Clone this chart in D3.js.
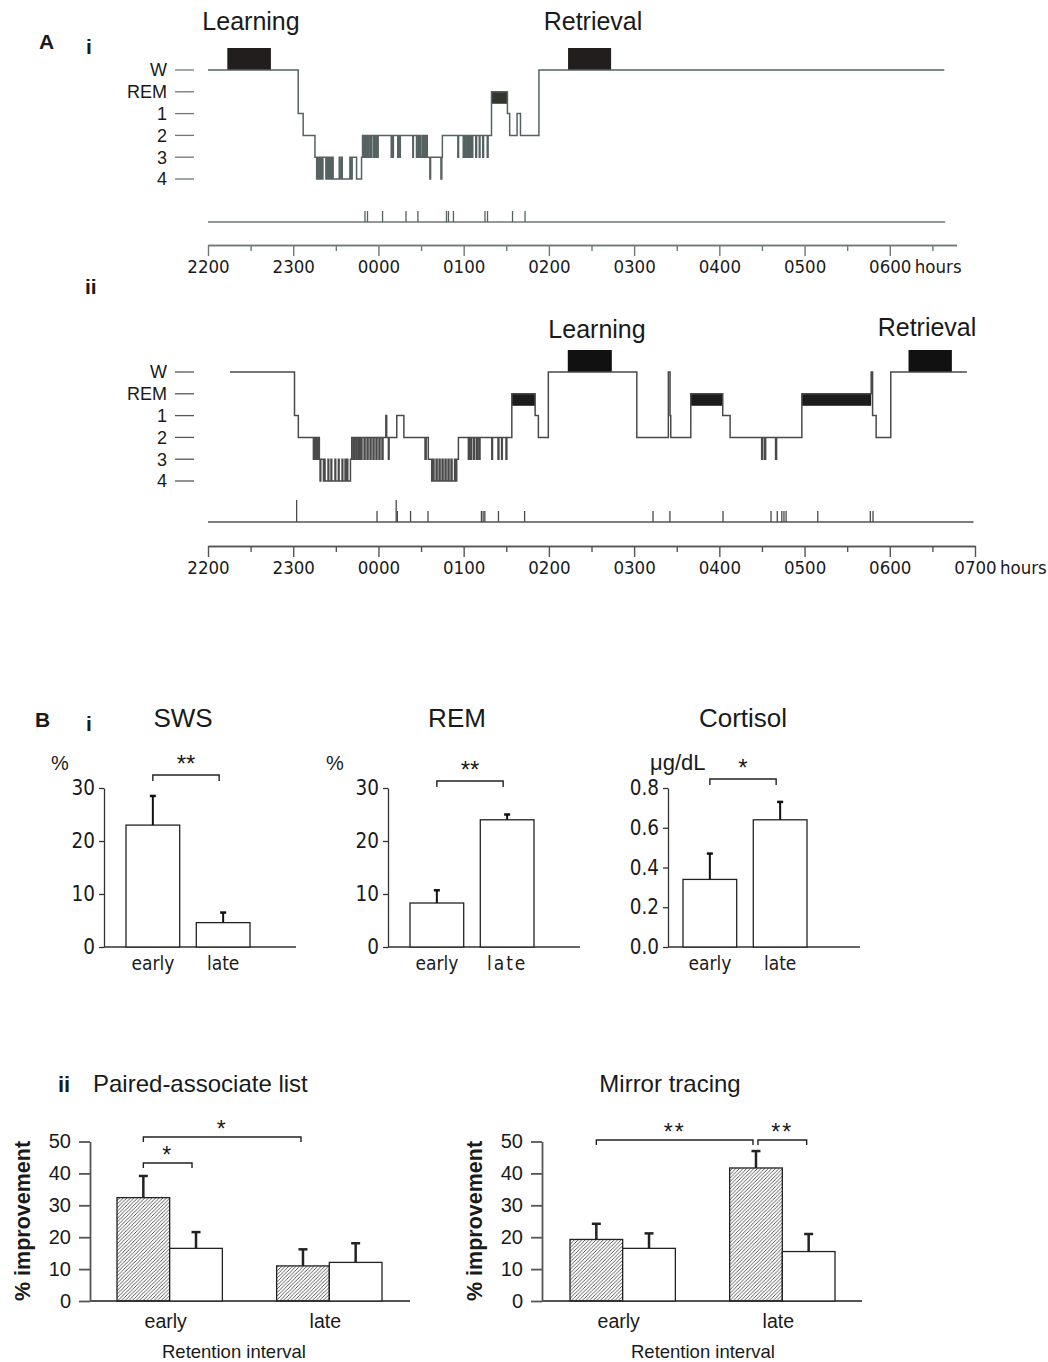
<!DOCTYPE html>
<html>
<head>
<meta charset="utf-8">
<script src="https://cdn.jsdelivr.net/npm/d3@7"></script>
<style>
  body { margin: 0; background: #fff; }
  text { font-family: "Liberation Sans", Arial, sans-serif; fill: #1a1a1a; }
  .narrow text, text.narrow { font-family: "Liberation Sans Narrow", "DejaVu Sans Condensed", sans-serif; }
</style>
</head>
<body>
<div id="chart"></div>
<script>
// ---------- data ----------
var stages = ["W", "REM", "1", "2", "3", "4"];
var hourLabelsI = ["2200", "2300", "0000", "0100", "0200", "0300", "0400", "0500", "0600"];
var hourLabelsII = ["2200", "2300", "0000", "0100", "0200", "0300", "0400", "0500", "0600", "0700"];

// hypnograms: [minutes after 22:00, stage from that minute on]
var hypnoI = [
  [0, "W"], [63.5, "1"], [67.0, "2"], [75.3, "3"],
  [76.5, "4"], [77.4, "3"], [78.3, "4"], [79.1, "3"], [80.0, "4"], [80.9, "3"],
  [83.0, "4"], [83.8, "3"], [84.7, "4"], [85.5, "3"], [86.4, "4"], [87.2, "3"], [88.1, "4"],
  [92.4, "3"], [92.9, "4"], [94.0, "3"], [94.5, "4"],
  [99.9, "3"], [100.6, "4"], [101.5, "3"], [104.6, "4"], [108.1, "3"], [108.8, "2"],
  [109.4, "3"], [110.1, "2"], [110.6, "3"], [111.5, "2"], [112.0, "3"], [112.7, "2"], [113.2, "3"], [114.3, "2"], [114.6, "3"], [115.1, "2"],
  [116.4, "3"], [117.1, "2"], [117.8, "3"], [118.5, "2"], [119.2, "3"], [119.8, "2"],
  [129.0, "3"], [129.4, "2"], [130.1, "3"], [130.5, "2"],
  [133.6, "3"], [134.0, "2"], [135.0, "3"], [135.4, "2"],
  [144.2, "3"], [144.6, "2"],
  [146.8, "3"], [147.4, "2"], [148.1, "3"], [149.1, "2"], [149.7, "3"], [150.9, "2"], [151.6, "3"], [152.3, "2"], [153.0, "3"], [153.4, "2"],
  [154.4, "3"], [156.2, "4"], [156.7, "3"], [164.0, "4"], [164.6, "3"], [165.0, "2"],
  [175.9, "3"], [176.4, "2"],
  [179.7, "3"], [180.4, "2"], [181.1, "3"], [182.2, "2"], [182.9, "3"], [183.6, "2"], [184.3, "3"], [185.0, "2"], [185.7, "3"], [186.4, "2"],
  [188.5, "3"], [189.1, "2"], [191.0, "3"], [191.5, "2"], [193.4, "3"], [194.0, "2"], [196.6, "3"], [197.2, "2"],
  [199.6, "REM"], [210.8, "1"], [212.4, "2"], [217.6, "1"], [220.0, "2"], [233.0, "W"], [518.4, "W"]
];
var learnI = [13.6, 44.3], retrieveI = [253.5, 283.8];
var eventsI = [110.5, 112.3, 122.9, 139.4, 147.8, 167.9, 169.3, 172.8, 195.0, 196.8, 214.4, 223.2];

var hypnoII = [
  [15.5, "W"], [60.9, "1"], [63.6, "2"],
  [74.2, "3"], [75.0, "2"], [75.7, "3"], [76.4, "2"], [77.1, "3"], [77.7, "2"], [78.4, "3"],
  [78.9, "4"], [79.4, "3"], [81.3, "4"], [81.9, "3"], [82.4, "4"], [84.5, "3"], [85.0, "4"], [86.6, "3"], [87.1, "4"], [89.4, "3"], [89.9, "4"],
  [91.8, "3"], [92.3, "4"], [94.4, "3"], [94.9, "4"], [96.5, "3"], [97.0, "4"], [97.9, "3"], [98.4, "4"], [100.3, "3"], [101.2, "2"],
  [102.3, "3"], [103.1, "2"], [104.2, "3"], [104.9, "2"], [106.0, "3"], [106.7, "2"], [107.7, "3"], [108.4, "2"], [109.9, "3"], [110.6, "2"],
  [112.0, "3"], [112.7, "2"], [114.1, "3"], [114.8, "2"], [116.2, "3"], [116.9, "2"], [118.3, "3"], [119.0, "2"], [120.4, "3"], [121.1, "2"],
  [122.5, "3"], [123.2, "2"], [125.2, "1"], [125.8, "2"], [127.0, "3"], [127.5, "2"],
  [132.9, "1"], [137.9, "2"],
  [152.8, "3"], [153.6, "2"], [155.1, "3"],
  [157.5, "4"], [158.4, "3"], [159.1, "4"], [160.6, "3"], [161.3, "4"], [162.7, "3"], [163.4, "4"], [164.8, "3"], [165.5, "4"], [166.9, "3"],
  [167.6, "4"], [169.0, "3"], [169.7, "4"], [171.1, "3"], [171.8, "4"], [173.6, "3"], [174.1, "4"], [175.1, "3"], [176.3, "2"],
  [183.3, "3"], [184.0, "2"], [184.8, "3"], [185.5, "2"], [186.9, "3"], [187.6, "2"], [189.0, "3"], [189.7, "2"], [190.8, "3"], [191.5, "2"],
  [199.8, "3"], [200.3, "2"], [204.2, "3"], [204.8, "2"], [206.7, "3"], [207.2, "2"], [209.8, "3"], [210.4, "2"],
  [213.9, "REM"], [230.3, "1"], [232.6, "2"], [239.6, "W"],
  [301.9, "2"], [324.1, "W"], [325.3, "1"], [325.8, "2"],
  [339.9, "REM"], [362.4, "1"], [367.6, "2"],
  [389.8, "3"], [390.5, "2"], [391.9, "3"], [392.6, "2"], [399.6, "3"], [400.3, "2"],
  [418.1, "REM"], [466.9, "W"], [467.9, "1"], [470.4, "2"], [480.7, "W"], [534.3, "W"]
];
var learnII = [253.3, 284.3], retrieveII = [493.2, 523.7];
var eventsII = [119.0, 133.3, 142.6, 154.9, 192.5, 193.7, 194.9, 204.5, 222.9, 313.3, 325.2, 362.6,
                396.4, 400.8, 404.0, 405.5, 407.0, 429.3, 466.3, 468.2];
var eventsIITall = [62.4, 132.5];

// B i: early vs late retention intervals
var conds = ["early", "late"];
var swsMean = [23, 4.6], swsSem = [5.5, 1.9];
var remMean = [8.3, 24], remSem = [2.4, 1.0];
var cortMean = [0.34, 0.64], cortSem = [0.13, 0.09];

// B ii: sleep (hatched) vs wake (open)
var groups = ["sleep", "wake"];
var pairedSleep = [32.4, 11.0], pairedSleepSem = [6.8, 5.2];
var pairedWake = [16.5, 12.1], pairedWakeSem = [5.1, 6.0];
var mirrorSleep = [19.3, 41.7], mirrorSleepSem = [4.9, 5.3];
var mirrorWake = [16.5, 15.5], mirrorWakeSem = [4.7, 5.5];

// ---------- svg ----------
var svg = d3.select("#chart").append("svg")
    .attr("width", 1048)
    .attr("height", 1362);

var defs = svg.append("defs");
defs.append("pattern")
    .attr("id", "hatch")
    .attr("patternUnits", "userSpaceOnUse")
    .attr("width", 3.6).attr("height", 3.6)
  .append("path")
    .attr("d", "M-0.9,0.9 l1.8,-1.8 M0,3.6 l3.6,-3.6 M2.7,4.5 l1.8,-1.8")
    .attr("stroke", "#333")
    .attr("stroke-width", 0.8);

function label(txt, x, y, size, bold, cls) {
  return svg.append("text")
      .attr("x", x).attr("y", y)
      .attr("font-size", size)
      .attr("font-weight", bold ? "bold" : null)
      .attr("class", cls || null)
      .text(txt);
}

// ---------- A: hypnograms ----------
var x = d3.scaleLinear().domain([0, 540]).range([208, 975]);

function drawHypno(cfg) {
  var y = d3.scalePoint().domain(stages).range(cfg.stageRange);
  var g = svg.append("g");

  stages.forEach(function(s) {
    g.append("text")
        .attr("x", 167).attr("y", y(s)).attr("dy", "0.36em")
        .attr("text-anchor", "end")
        .attr("font-size", 18)
        .text(s);
    g.append("line")
        .attr("x1", 175).attr("x2", 194)
        .attr("y1", y(s)).attr("y2", y(s))
        .attr("stroke", cfg.axisColor).attr("stroke-width", 1.3);
  });

  // learning / retrieval sessions
  [[cfg.learn, "Learning", cfg.titleX[0], cfg.titleY[0]],
   [cfg.retrieve, "Retrieval", cfg.titleX[1], cfg.titleY[1]]].forEach(function(b) {
    g.append("rect")
        .attr("x", x(b[0][0])).attr("width", x(b[0][1]) - x(b[0][0]))
        .attr("y", y("W") - 22).attr("height", 22)
        .attr("fill", cfg.boxColor);
    g.append("text")
        .attr("x", b[2]).attr("y", b[3])
        .attr("text-anchor", "middle")
        .attr("font-size", 25)
        .text(b[1]);
  });

  // REM periods drawn as thick bars
  var remH = (y("1") - y("REM")) * 0.55;
  cfg.hypno.forEach(function(d, i) {
    if (d[1] === "REM" && i < cfg.hypno.length - 1) {
      g.append("rect")
          .attr("x", x(d[0])).attr("width", x(cfg.hypno[i + 1][0]) - x(d[0]))
          .attr("y", y("REM")).attr("height", remH)
          .attr("fill", cfg.remColor);
    }
  });

  var line = d3.line()
      .curve(d3.curveStepAfter)
      .x(function(d) { return x(d[0]); })
      .y(function(d) { return y(d[1]); });

  g.append("path")
      .datum(cfg.hypno)
      .attr("d", line)
      .attr("fill", "none")
      .attr("stroke", cfg.lineColor)
      .attr("stroke-width", 1.5);

  // event markers
  g.append("line")
      .attr("x1", x(0)).attr("x2", x(cfg.eventEnd))
      .attr("y1", cfg.eventsY).attr("y2", cfg.eventsY)
      .attr("stroke", cfg.axisColor).attr("stroke-width", 1.4);
  g.selectAll(".ev").data(cfg.events).enter().append("line")
      .attr("x1", d => x(d)).attr("x2", d => x(d))
      .attr("y1", cfg.eventsY).attr("y2", cfg.eventsY - 11)
      .attr("stroke", cfg.lineColor).attr("stroke-width", 1.3);
  g.selectAll(".evt").data(cfg.tall).enter().append("line")
      .attr("x1", d => x(d)).attr("x2", d => x(d))
      .attr("y1", cfg.eventsY).attr("y2", cfg.eventsY - 22)
      .attr("stroke", cfg.lineColor).attr("stroke-width", 1.3);

  // time axis
  var xa = x.copy().domain([0, cfg.axisEnd]).range([x(0), x(cfg.axisEnd)]);
  var hours = cfg.hourLabels.map(function(h, i) { return i * 60; });
  var halves = hours.map(function(h) { return h + 30; }).filter(function(h) { return h < cfg.axisEnd; });

  var ax = g.append("g")
      .attr("class", "narrow")
      .attr("transform", "translate(0," + cfg.axisY + ")")
      .call(d3.axisBottom(xa).tickValues(hours).tickSize(11).tickSizeOuter(0).tickPadding(4)
            .tickFormat(function(d, i) { return cfg.hourLabels[i]; }));
  ax.append("g")
      .call(d3.axisBottom(xa).tickValues(halves).tickSize(6).tickSizeOuter(0).tickFormat(""));
  ax.selectAll("path, line").attr("stroke", cfg.axisColor).attr("stroke-width", 1.4);
  ax.selectAll("text").attr("font-size", 18.5).attr("fill", "#1a1a1a");

  g.append("text")
      .attr("class", "narrow")
      .attr("x", x(hours[hours.length - 1]) + 25)
      .attr("y", cfg.axisY + 28)
      .attr("font-size", 18.5)
      .text("hours");
}

label("A", 39, 49, 21, true);
label("i", 86, 54, 21, true);
label("ii", 85, 294, 21, true);

drawHypno({
  hypno: hypnoI, learn: learnI, retrieve: retrieveI,
  events: eventsI, tall: [], eventEnd: 519, axisEnd: 527,
  hourLabels: hourLabelsI,
  stageRange: [70, 179], eventsY: 222, axisY: 245,
  titleX: [251, 593], titleY: [30, 30],
  lineColor: "#566262", axisColor: "#6f7777", boxColor: "#221e1e", remColor: "#33352d"
});

drawHypno({
  hypno: hypnoII, learn: learnII, retrieve: retrieveII,
  events: eventsII, tall: eventsIITall, eventEnd: 539, axisEnd: 540,
  hourLabels: hourLabelsII,
  stageRange: [372, 481], eventsY: 522, axisY: 546,
  titleX: [597, 927], titleY: [338, 336],
  lineColor: "#4a4a4a", axisColor: "#555", boxColor: "#111", remColor: "#1c1c1c"
});

// ---------- B i: sleep stages and cortisol ----------
label("B", 35, 727, 21, true);
label("i", 86, 731, 21, true);

function drawSimpleBars(cfg) {
  var y = d3.scaleLinear().domain([0, cfg.max]).range([947, 788]);
  var xb = d3.scaleBand().domain(conds).range(cfg.bars).paddingInner(0.236);
  var g = svg.append("g");

  var yAx = g.append("g")
      .attr("class", "narrow")
      .attr("transform", "translate(" + cfg.x0 + ",0)")
      .call(d3.axisLeft(y).tickValues(cfg.ticks).tickSize(5).tickSizeOuter(0).tickPadding(4).tickFormat(cfg.fmt));
  yAx.selectAll("path, line").attr("stroke", "#333").attr("stroke-width", 1.3);
  yAx.selectAll("text").attr("font-size", 20.5).attr("fill", "#1a1a1a");

  g.append("line")
      .attr("x1", cfg.x0).attr("x2", cfg.x0 + 192)
      .attr("y1", y(0)).attr("y2", y(0))
      .attr("stroke", "#333").attr("stroke-width", 1.3);

  var d = conds.map(function(c, i) { return {c: c, m: cfg.mean[i], s: cfg.sem[i]}; });

  g.selectAll(".bar").data(d).enter().append("rect")
      .attr("x", v => xb(v.c)).attr("width", xb.bandwidth())
      .attr("y", v => y(v.m)).attr("height", v => y(0) - y(v.m))
      .attr("fill", "#fff").attr("stroke", "#222").attr("stroke-width", 1.3);

  d.forEach(function(v) {
    var cx = xb(v.c) + xb.bandwidth() / 2;
    g.append("line").attr("x1", cx).attr("x2", cx).attr("y1", y(v.m)).attr("y2", y(v.m + v.s))
        .attr("stroke", "#111").attr("stroke-width", 2);
    g.append("line").attr("x1", cx - 3).attr("x2", cx + 3).attr("y1", y(v.m + v.s)).attr("y2", y(v.m + v.s))
        .attr("stroke", "#111").attr("stroke-width", 2.5);
    g.append("text")
        .attr("class", "narrow")
        .attr("x", cx).attr("y", 970)
        .attr("text-anchor", "middle")
        .attr("font-size", 19)
        .attr("letter-spacing", (cfg.spaced && v.c === "late") ? 2 : null)
        .text(v.c);
  });

  // significance bracket
  var c1 = xb("early") + xb.bandwidth() / 2, c2 = xb("late") + xb.bandwidth() / 2;
  g.append("path")
      .attr("d", "M" + c1 + "," + (cfg.sigY + 6) + "V" + cfg.sigY + "H" + (c2 - 4) + "V" + (cfg.sigY + 6))
      .attr("fill", "none").attr("stroke", "#222").attr("stroke-width", 1.4);
  g.append("text")
      .attr("x", (c1 + c2) / 2 - 2).attr("y", cfg.sigY - 3)
      .attr("text-anchor", "middle")
      .attr("font-size", 24)
      .text(cfg.stars);

  g.append("text")
      .attr("x", cfg.titleX).attr("y", 727)
      .attr("text-anchor", "middle")
      .attr("font-size", 26)
      .text(cfg.title);
  g.append("text")
      .attr("x", cfg.unitX).attr("y", 770)
      .attr("font-size", cfg.unitSize)
      .text(cfg.unit);
}

drawSimpleBars({title: "SWS", titleX: 183, unit: "%", unitX: 51, unitSize: 20, x0: 104, bars: [126, 250],
  max: 30, ticks: [0, 10, 20, 30], fmt: d3.format("d"), mean: swsMean, sem: swsSem, sigY: 775, stars: "**"});
drawSimpleBars({title: "REM", titleX: 457, unit: "%", unitX: 326, unitSize: 20, x0: 388, bars: [410, 534],
  max: 30, ticks: [0, 10, 20, 30], fmt: d3.format("d"), mean: remMean, sem: remSem, sigY: 781, stars: "**", spaced: true});
drawSimpleBars({title: "Cortisol", titleX: 743, unit: "μg/dL", unitX: 650, unitSize: 22, x0: 668, bars: [683, 807],
  max: 0.8, ticks: [0, 0.2, 0.4, 0.6, 0.8], fmt: d3.format(".1f"), mean: cortMean, sem: cortSem, sigY: 779, stars: "*"});

// ---------- B ii: memory improvement ----------
label("ii", 58, 1092, 22, true);

function drawGroupedBars(cfg) {
  var y = d3.scaleLinear().domain([0, 50]).range([1301, 1141.5]);
  var x0 = d3.scaleBand().domain(conds).range(cfg.range).paddingInner(0.34);
  var x1 = d3.scaleBand().domain(groups).range([0, x0.bandwidth()]);
  var g = svg.append("g");

  var yAx = g.append("g")
      .attr("transform", "translate(" + cfg.x0 + ",0)")
      .call(d3.axisLeft(y).tickValues([0, 10, 20, 30, 40, 50]).tickSize(11).tickSizeOuter(0).tickPadding(8));
  yAx.selectAll("path, line").attr("stroke", "#555").attr("stroke-width", 1.8);
  yAx.selectAll("text").attr("font-size", 20).attr("fill", "#222");

  g.append("line")
      .attr("x1", cfg.x0).attr("x2", cfg.x0 + 320)
      .attr("y1", y(0)).attr("y2", y(0))
      .attr("stroke", "#555").attr("stroke-width", 1.8);

  var rows = [];
  conds.forEach(function(c, i) {
    rows.push({c: c, g: "sleep", m: cfg.sleep[i], s: cfg.sleepSem[i]});
    rows.push({c: c, g: "wake", m: cfg.wake[i], s: cfg.wakeSem[i]});
  });
  var cx = function(v) { return x0(v.c) + x1(v.g) + x1.bandwidth() / 2; };

  g.selectAll(".eb").data(rows).enter().append("line")
      .attr("x1", cx).attr("x2", cx)
      .attr("y1", v => y(v.m)).attr("y2", v => y(v.m + v.s))
      .attr("stroke", "#222").attr("stroke-width", 2.5);
  g.selectAll(".cap").data(rows).enter().append("line")
      .attr("x1", v => cx(v) - 4.5).attr("x2", v => cx(v) + 4.5)
      .attr("y1", v => y(v.m + v.s)).attr("y2", v => y(v.m + v.s))
      .attr("stroke", "#222").attr("stroke-width", 2.5);

  g.selectAll(".bar").data(rows).enter().append("rect")
      .attr("x", v => x0(v.c) + x1(v.g)).attr("width", x1.bandwidth())
      .attr("y", v => y(v.m)).attr("height", v => y(0) - y(v.m))
      .attr("fill", v => v.g === "sleep" ? "url(#hatch)" : "#fff")
      .attr("stroke", "#222").attr("stroke-width", 1.3);

  conds.forEach(function(c) {
    g.append("text")
        .attr("x", x0(c) + x0.bandwidth() / 2 - 4).attr("y", 1328)
        .attr("text-anchor", "middle").attr("font-size", 19.5)
        .text(c);
  });

  // brackets: [from group, from bar, to group, to bar, y, nudge a, nudge b, stars]
  cfg.sig.forEach(function(s) {
    var a = x0(s[0]) + x1(s[1]) + x1.bandwidth() / 2 + s[5];
    var b = x0(s[2]) + x1(s[3]) + x1.bandwidth() / 2 + s[6];
    g.append("path")
        .attr("d", "M" + a + "," + (s[4] + 5) + "V" + s[4] + "H" + b + "V" + (s[4] + 5))
        .attr("fill", "none").attr("stroke", "#222").attr("stroke-width", 1.4);
    g.append("text")
        .attr("x", (a + b) / 2).attr("y", s[4])
        .attr("text-anchor", "middle").attr("font-size", 23)
        .attr("letter-spacing", 2)
        .text(s[7]);
  });

  g.append("text")
      .attr("x", cfg.titleX).attr("y", 1092)
      .attr("text-anchor", cfg.titleAnchor).attr("font-size", 24)
      .text(cfg.title);
  g.append("text")
      .attr("x", cfg.xTitle).attr("y", 1358)
      .attr("text-anchor", "middle").attr("font-size", 18.5)
      .text("Retention interval");
  g.append("text")
      .attr("transform", "translate(" + (cfg.x0 - 60) + ",1221) rotate(-90)")
      .attr("text-anchor", "middle").attr("font-size", 21.5).attr("font-weight", "bold")
      .text("% improvement");
}

drawGroupedBars({title: "Paired-associate list", titleX: 93, titleAnchor: "start", x0: 90, range: [117, 382], xTitle: 234,
  sleep: pairedSleep, sleepSem: pairedSleepSem, wake: pairedWake, wakeSem: pairedWakeSem,
  sig: [["early", "sleep", "late", "sleep", 1137, 0, -2, "*"],
        ["early", "sleep", "early", "wake", 1163, 0, -4, "*"]]});

drawGroupedBars({title: "Mirror tracing", titleX: 670, titleAnchor: "middle", x0: 542, range: [570, 835], xTitle: 703,
  sleep: mirrorSleep, sleepSem: mirrorSleepSem, wake: mirrorWake, wakeSem: mirrorWakeSem,
  sig: [["early", "sleep", "late", "sleep", 1140, 0, -3, "**"],
        ["late", "sleep", "late", "wake", 1140, 2, -2, "**"]]});
</script>
</body>
</html>
